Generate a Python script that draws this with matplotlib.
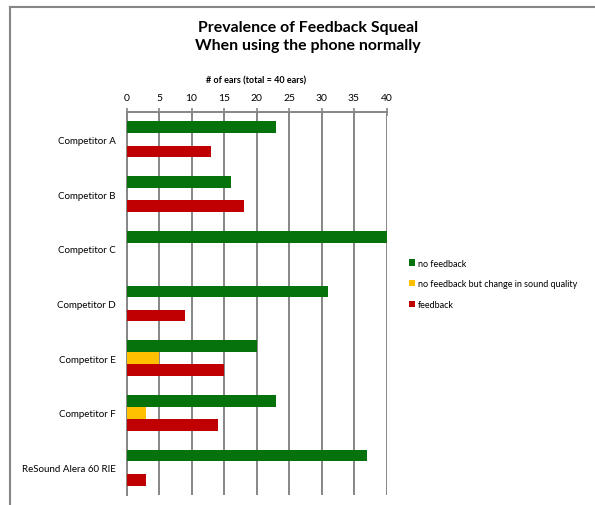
import matplotlib.pyplot as plt
from matplotlib.patches import Patch
from matplotlib.lines import Line2D

plt.rcParams['font.family'] = ['Lato', 'DejaVu Sans']

# ears per outcome, out of 40
categories = ['Competitor A', 'Competitor B', 'Competitor C', 'Competitor D',
              'Competitor E', 'Competitor F', 'ReSound Alera 60 RIE']
no_feedback = [23, 16, 40, 31, 20, 23, 37]
sound_change = [0, 0, 0, 0, 5, 3, 0]
feedback = [13, 18, 0, 9, 15, 14, 3]
series_names = ['no feedback', 'no feedback but change in sound quality', 'feedback']
colors = ['#06720c', '#ffc000', '#c00000']
x_ticks = [0, 5, 10, 15, 20, 25, 30, 35, 40]

W, H = 595, 506
fig = plt.figure(figsize=(W / 100, H / 100), dpi=100)
ax = fig.add_axes([126.5 / W, 1 - 496 / H, 260 / W, 383 / H])

slot = 0.22
ypos = list(range(len(categories)))
for k, (vals, col) in enumerate(zip([no_feedback, sound_change, feedback], colors)):
    ax.barh([y + (k - 1) * slot for y in ypos], vals, height=slot * 0.97,
            color=col, zorder=3)

ax.set_xlim(0, 40)
ax.set_ylim(len(categories) - 0.5, -0.5)
ax.set_xticks(x_ticks)
ax.set_yticks(ypos)
ax.set_yticklabels(categories, fontsize=7)
ax.xaxis.tick_top()
ax.tick_params(axis='x', direction='inout', length=6, width=1.2, color='#868686',
               labelsize=7.5, pad=4)
ax.tick_params(axis='y', length=0, pad=8)
ax.grid(axis='x', color='#868686', linewidth=1.4, zorder=0)
for side in ['right', 'bottom']:
    ax.spines[side].set_visible(False)
ax.spines['top'].set_color('#868686')
ax.spines['top'].set_linewidth(1.4)
ax.spines['left'].set_color('#868686')
ax.spines['left'].set_linewidth(1.4)
ax.set_xlabel('# of ears (total = 40 ears)', fontsize=6.5, fontweight='bold', labelpad=8)
ax.xaxis.set_label_position('top')

fig.text(308 / W, 1 - 37 / H, 'Prevalence of Feedback Squeal\nWhen using the phone normally',
         ha='center', va='center', fontsize=11.4, fontweight='bold', linespacing=1.45)

handles = [Patch(facecolor=c, edgecolor='none') for c in colors]
fig.legend(handles, series_names, loc='upper left', bbox_to_anchor=(405 / W, 1 - 256 / H),
           frameon=False, fontsize=6.5, handlelength=0.7, handleheight=0.7,
           handletextpad=0.3, labelspacing=1.3, borderaxespad=0)

# chart frame
fig.add_artist(Line2D([9.5 / W, 1], [1 - 7.5 / H, 1 - 7.5 / H], color='#868686', linewidth=1.5))
fig.add_artist(Line2D([9.5 / W, 9.5 / W], [0, 1 - 7.5 / H], color='#868686', linewidth=1.5))

fig.savefig('out.png', dpi=100)
